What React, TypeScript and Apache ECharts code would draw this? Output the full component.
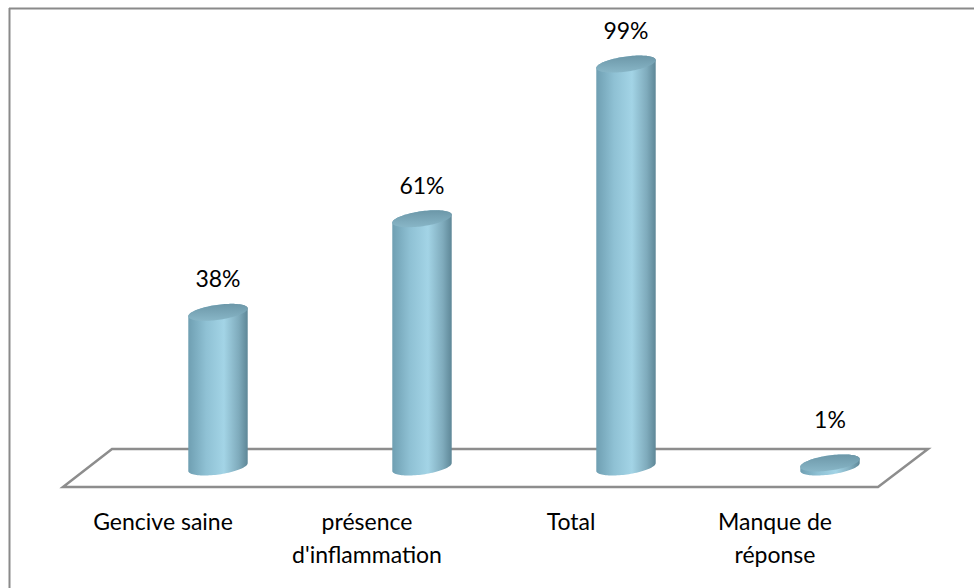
import React, { useEffect, useRef } from "react";
import * as echarts from "echarts";

const categories = ["Gencive saine", "présence\nd'inflammation", "Total", "Manque de\nréponse"];
const values = [38, 61, 99, 1];
const valueLabels = ["38%", "61%", "99%", "1%"];

const FONT = "Lato, 'Noto Sans', sans-serif";

export default function App() {
  const ref = useRef<HTMLDivElement>(null);

  useEffect(() => {
    if (!ref.current) return;
    const chart = echarts.init(ref.current, undefined, { renderer: "svg" });

    const renderFloor = (params: any, api: any) => {
      const cs = params.coordSys;
      const baseY = api.coord([0, 0])[1];
      const backY = baseY - 18;
      const frontY = baseY + 20;
      return {
        type: "polygon",
        shape: {
          points: [
            [cs.x - 4, backY],
            [cs.x + cs.width - 4, backY],
            [cs.x + cs.width - 54, frontY],
            [cs.x - 53, frontY],
          ],
        },
        style: { fill: "#ffffff", stroke: "#8d8d8d", lineWidth: 2.5 },
      };
    };

    const renderBar = (params: any, api: any) => {
      const idx = params.dataIndex;
      const xv = api.value(0);
      const v = api.value(1);
      const top = api.coord([xv, v]);
      const base = api.coord([xv, 0]);
      const cx = top[0];
      const topY = top[1];
      const baseY = base[1];
      const rx = 30;
      const ry = 7.5;
      const tilt = (-8 * Math.PI) / 180;
      const pt = (cy: number, t: number) => [
        cx + rx * Math.cos(t) * Math.cos(tilt) - ry * Math.sin(t) * Math.sin(tilt),
        cy + rx * Math.cos(t) * Math.sin(tilt) + ry * Math.sin(t) * Math.cos(tilt),
      ];
      const N = 48;
      const body: number[][] = [];
      for (let i = 0; i <= N; i++) body.push(pt(baseY, (Math.PI * i) / N));
      for (let i = 0; i <= N; i++) body.push(pt(topY, Math.PI + (Math.PI * i) / N));
      const cap: number[][] = [];
      for (let i = 0; i < N * 2; i++) cap.push(pt(topY, (Math.PI * i) / N));
      const labelY = Math.min(topY - 34, baseY - 48);
      return {
        type: "group",
        children: [
          {
            type: "polygon",
            shape: { points: body },
            style: {
              fill: new echarts.graphic.LinearGradient(0, 0, 1, 0, [
                { offset: 0, color: "#6f9fb2" },
                { offset: 0.3, color: "#8fc1d4" },
                { offset: 0.6, color: "#a3d4e6" },
                { offset: 0.85, color: "#7fabbc" },
                { offset: 1, color: "#5e8797" },
              ]),
            },
          },
          {
            type: "polygon",
            shape: { points: cap },
            style: {
              fill: new echarts.graphic.LinearGradient(0, 0, 0, 1, [
                { offset: 0, color: "#6c97a8" },
                { offset: 1, color: "#88b6c7" },
              ]),
            },
          },
          {
            type: "text",
            style: {
              text: valueLabels[idx],
              x: cx,
              y: labelY,
              align: "center",
              verticalAlign: "middle",
              fontSize: 23,
              fontFamily: FONT,
              fill: "#000000",
            },
          },
        ],
      };
    };

    chart.setOption({
      animation: false,
      backgroundColor: "#ffffff",
      grid: { left: 116, right: 42, top: 60, bottom: 121 },
      xAxis: {
        type: "category",
        data: categories,
        axisLine: { show: false },
        axisTick: { show: false },
        splitLine: { show: false },
        axisLabel: {
          interval: 0,
          margin: 37,
          fontSize: 23,
          lineHeight: 33,
          fontFamily: FONT,
          color: "#000000",
          padding: [0, 110, 0, 0],
        },
      },
      yAxis: { type: "value", min: 0, max: 100, show: false },
      graphic: [
        {
          type: "line",
          shape: { x1: 9, y1: 8.5, x2: 974, y2: 8.5 },
          style: { stroke: "#8a8a8a", lineWidth: 2 },
        },
        {
          type: "line",
          shape: { x1: 9.5, y1: 8, x2: 9.5, y2: 588 },
          style: { stroke: "#8a8a8a", lineWidth: 2 },
        },
      ],
      series: [
        {
          type: "custom",
          z: 1,
          data: [[0, 0]],
          renderItem: renderFloor,
          silent: true,
        },
        {
          type: "custom",
          z: 2,
          data: values.map((v, i) => [i, v]),
          renderItem: renderBar,
          clip: false,
        },
      ],
    });

    return () => chart.dispose();
  }, []);

  return (
    <div
      ref={ref}
      style={{ position: "absolute", left: 0, top: 0, width: 974, height: 588, background: "#fff" }}
    />
  );
}
